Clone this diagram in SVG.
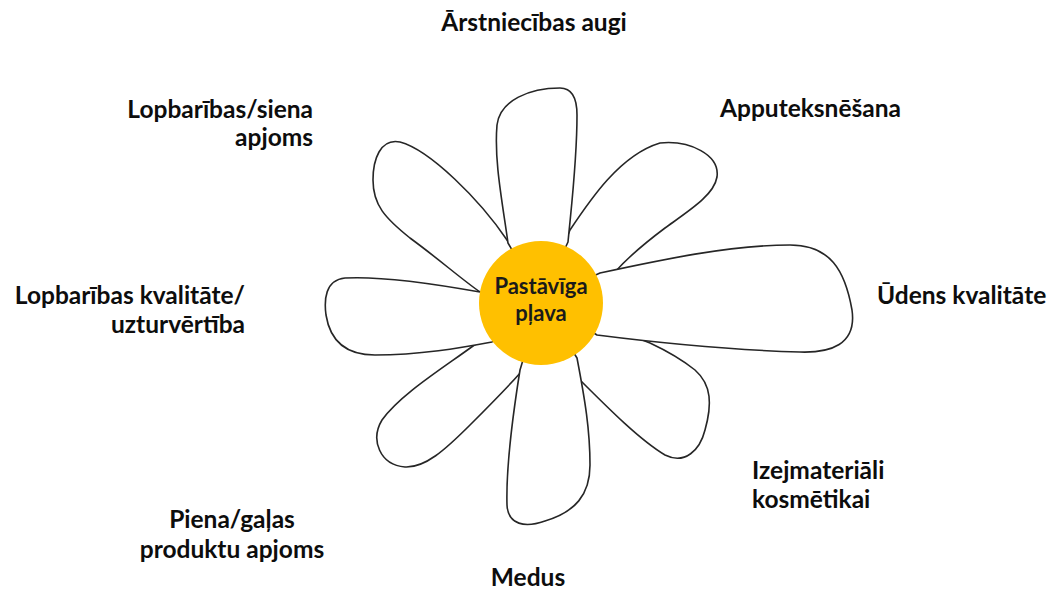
<svg xmlns="http://www.w3.org/2000/svg" width="1050" height="591" viewBox="0 0 1050 591">
<style>
.petal{fill:#fff;stroke:#262626;stroke-width:1.6;stroke-linejoin:round}
.lbl{font-family:Lato,"Liberation Sans",sans-serif;font-weight:bold;font-size:24.5px;fill:#0d0d0d}
.ctr{font-family:Lato,"Liberation Sans",sans-serif;font-weight:bold;font-size:22px;fill:#1a1a1a;text-anchor:middle}
</style>
<rect width="1050" height="591" fill="#fff"/>
<g id="petals">
<g id="petal-upper-right"><path class="petal" d="M541 300 L570 230 C590 200 620 155 660 143 C690 140 720 155 717 177 C714 195 690 210 665 228 C645 243 630 255 615 272 Z"/></g>
<g id="petal-lower-right"><path class="petal" d="M541 300 L578 378 C610 410 640 440 665 455 C685 465 700 450 705 430 C712 405 712 385 695 370 C680 358 665 350 650 343 Z"/></g>
<g id="petal-lower-left"><path class="petal" d="M541 300 L473 346 C440 370 400 395 382 420 C370 440 380 465 405 467 C425 468 445 450 470 425 C495 400 515 380 527 365 Z"/></g>
<g id="petal-upper-left"><path class="petal" d="M541 300 L507 240 C480 200 430 150 400 142 C380 138 373 160 373 180 C373 205 385 218 410 238 C440 260 460 278 480 292 Z"/></g>
<g id="petal-top"><path class="petal" d="M541 300 L508 243 C502 200 494 160 497 125 C500 100 530 88 560 88 C572 88 577 98 577 115 C577 160 572 200 568 242 Z"/></g>
<g id="petal-left"><path class="petal" d="M541 300 L480 292 C430 283 380 276 345 278 C325 280 324 300 326 315 C330 340 345 355 375 355 C420 355 460 348 492 342 Z"/></g>
<g id="petal-bottom"><path class="petal" d="M541 300 L520 370 C512 420 506 470 507 505 C508 525 525 528 545 521 C575 512 590 495 590 465 C590 430 585 400 577 358 Z"/></g>
<g id="petal-right"><path class="petal" d="M541 300 L600 273 C660 260 730 245 790 245 C830 245 845 270 852 310 C857 345 830 353 800 352 C730 350 660 343 597 335 Z"/></g>
</g>
<g id="center">
<circle cx="541" cy="303" r="62" fill="#FFC000"/>
<text class="ctr" x="541" y="294">Pastāvīga</text>
<text class="ctr" x="541" y="321">pļava</text>
</g>
<g id="label-arstniecibas"><text class="lbl" x="534" y="31" text-anchor="middle">Ārstniecības augi</text></g>
<g id="label-lopbaribas-siena"><text class="lbl" x="313" y="118" text-anchor="end">Lopbarības/siena</text><text class="lbl" x="313" y="146" text-anchor="end">apjoms</text></g>
<g id="label-apputeksnesana"><text class="lbl" x="720" y="117">Apputeksnēšana</text></g>
<g id="label-lopbaribas-kvalitate"><text class="lbl" x="245" y="304" text-anchor="end">Lopbarības kvalitāte/</text><text class="lbl" x="245" y="333" text-anchor="end">uzturvērtība</text></g>
<g id="label-udens"><text class="lbl" x="877" y="304">Ūdens kvalitāte</text></g>
<g id="label-izejmateriali"><text class="lbl" x="752" y="479">Izejmateriāli</text><text class="lbl" x="752" y="508">kosmētikai</text></g>
<g id="label-piena"><text class="lbl" x="232" y="528" text-anchor="middle">Piena/gaļas</text><text class="lbl" x="232" y="558" text-anchor="middle">produktu apjoms</text></g>
<g id="label-medus"><text class="lbl" x="528" y="586" text-anchor="middle">Medus</text></g>
</svg>
